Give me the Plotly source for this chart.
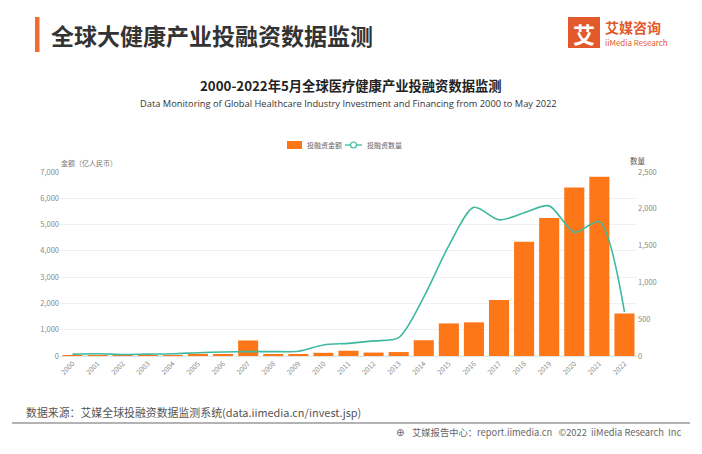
import plotly.graph_objects as go

years = [str(y) for y in range(2000, 2023)]
amount = [30, 20, 15, 20, 30, 80, 70, 590, 40, 40, 120, 200, 130, 150, 600, 1240, 1280, 2130, 4350, 5250, 6410, 6820, 1620]
count = [25, 30, 20, 25, 30, 45, 55, 60, 60, 65, 150, 172, 205, 250, 800, 1500, 2020, 1850, 1945, 2040, 1680, 1825, 600]

W, H = 702, 454
L, R, T, B = 60, 65, 172, 98
PW = W - L - R
PH = H - T - B

def xp(px):
    return (px - L) / PW

def yp(py):
    return (H - B - py) / PH

FONT = "Noto Sans CJK SC"
ORANGE = "#fd7617"
TEAL = "#3fb89f"

fig = go.Figure()
fig.add_trace(go.Bar(x=years, y=amount, name="投融资金额", marker=dict(color=ORANGE, line=dict(width=0)),
                     width=0.8, yaxis="y"))
fig.add_trace(go.Scatter(x=years, y=count, name="投融资数量", mode="lines",
                         line=dict(color=TEAL, width=1.6, shape="spline", smoothing=0.8),
                         yaxis="y2"))

fig.update_layout(
    width=W, height=H,
    margin=dict(l=L, r=R, t=T, b=B, autoexpand=False),
    paper_bgcolor="white", plot_bgcolor="white",
    font=dict(family=FONT, color="#666"),
    showlegend=False,
    xaxis=dict(type="category", tickangle=-45, tickfont=dict(size=7, color="#888"), automargin=False,
               showgrid=False, showline=True, linecolor="#e3e3e3", ticks=""),
    yaxis=dict(range=[0, 7000], dtick=1000, tickformat=",", tickfont=dict(size=7.5, color="#888"), automargin=False,
               showgrid=True, gridcolor="#f0f0f0", zeroline=False, showline=False, ticks=""),
    yaxis2=dict(range=[0, 2500], dtick=500, tickformat=",", tickfont=dict(size=7.5, color="#888"), automargin=False,
                overlaying="y", side="right", showgrid=False, zeroline=False, showline=False, ticks=""),
)

def A(text, x, y, size, color, anchor="left", family=FONT):
    return dict(text=text, x=xp(x), y=yp(y), xref="paper", yref="paper", xanchor=anchor, yanchor="middle",
                showarrow=False, font=dict(size=size, color=color, family=family))

ann = []
ann.append(A("<b>全球大健康产业投融资数据监测</b>", 49, 35, 23, "#333"))
ann.append(A("<b>艾</b>", 584, 33, 22, "white", "center"))
ann.append(A("<b>艾媒咨询</b>", 603, 27, 14, "#e2592b"))
ann.append(A("iiMedia Research", 603, 42, 8, "#e2592b"))
ann.append(A("<b>2000-2022年5月全球医疗健康产业投融资数据监测</b>", 351, 85, 13.3, "#222", "center"))
ann.append(A("Data Monitoring of Global Healthcare Industry Investment and Financing from 2000 to May 2022",
             348, 104, 9.3, "#333", "center", "Open Sans"))
# manual legend
ann.append(A("投融资金额", 305, 145, 7, "#666"))
ann.append(A("投融资数量", 365, 145, 7, "#666"))
# axis titles
ann.append(A("金额（亿人民币）", 59, 163, 7, "#777"))
ann.append(A("数量", 628, 160, 7.5, "#555"))
# source/footer
ann.append(A("数据来源：艾媒全球投融资数据监测系统(data.iimedia.cn/invest.jsp)", 24, 412, 10.9, "#555"))
ann.append(A("艾媒报告中心：report.iimedia.cn   ©2022  iiMedia Research  Inc", 683, 432, 9.3, "#666", "right"))
ann.append(A("⊕", 406, 432, 10, "#666", "right", "DejaVu Sans"))

shapes = []
shapes.append(dict(type="rect", xref="paper", yref="paper", x0=xp(35), x1=xp(39.5), y0=yp(52), y1=yp(17),
                   fillcolor="#f26b2f", line=dict(width=0)))
shapes.append(dict(type="rect", xref="paper", yref="paper", x0=xp(568), x1=xp(600), y0=yp(48), y1=yp(17),
                   fillcolor="#e2592b", line=dict(width=0)))
shapes.append(dict(type="line", xref="paper", yref="paper", x0=xp(12), x1=xp(690), y0=yp(423), y1=yp(423),
                   line=dict(color="#9a9a9a", width=1.5)))
# legend symbols
shapes.append(dict(type="rect", xref="paper", yref="paper", x0=xp(287), x1=xp(302), y0=yp(149), y1=yp(141),
                   fillcolor=ORANGE, line=dict(width=0)))
shapes.append(dict(type="line", xref="paper", yref="paper", x0=xp(345), x1=xp(362), y0=yp(145), y1=yp(145),
                   line=dict(color=TEAL, width=1.3)))
shapes.append(dict(type="circle", xref="paper", yref="paper", x0=xp(350.5), x1=xp(356.5), y0=yp(148), y1=yp(142),
                   fillcolor="white", line=dict(color=TEAL, width=1.2)))

fig.update_layout(annotations=ann, shapes=shapes)
fig.write_html("out.html", config={"displayModeBar": False},
               post_script="document.body.style.margin='0';document.body.style.overflow='hidden';")
